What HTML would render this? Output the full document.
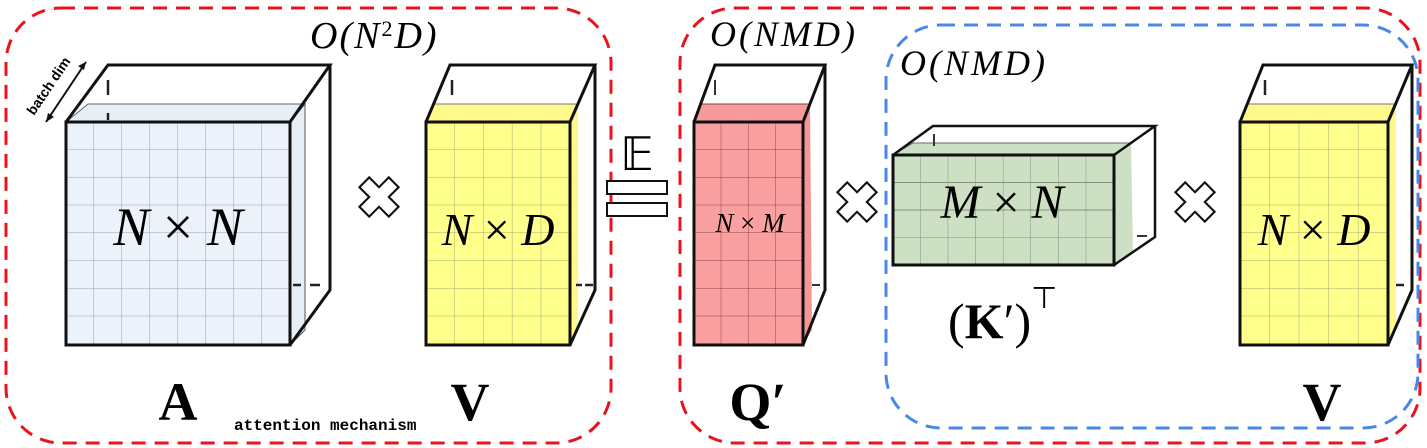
<!DOCTYPE html>
<html><head><meta charset="utf-8"><style>
html,body{margin:0;padding:0;background:#fff;width:1427px;height:448px;overflow:hidden}
.it{font-style:italic}
</style></head><body>
<svg width="1427" height="448" viewBox="0 0 1427 448" font-family="Liberation Serif, serif">
<defs>
<pattern id="g1" width="28" height="27.75" patternUnits="userSpaceOnUse" x="66" y="122"><path d="M28 0V27.75H0" fill="none" stroke="#9aa3ad" stroke-width="1"/></pattern>
<pattern id="g2" width="28.8" height="27.75" patternUnits="userSpaceOnUse" x="426" y="122"><path d="M28.8 0V27.75H0" fill="none" stroke="#a8a870" stroke-width="1"/></pattern>
<pattern id="g3" width="27.25" height="27.75" patternUnits="userSpaceOnUse" x="694" y="122"><path d="M27.25 0V27.75H0" fill="none" stroke="#8a4a4a" stroke-width="1"/></pattern>
<pattern id="g4" width="27.6" height="27.5" patternUnits="userSpaceOnUse" x="893" y="155"><path d="M27.6 0V27.5H0" fill="none" stroke="#7f947a" stroke-width="1"/></pattern>
<pattern id="g5" width="29.6" height="27.75" patternUnits="userSpaceOnUse" x="1240" y="122"><path d="M29.6 0V27.75H0" fill="none" stroke="#a8a870" stroke-width="1"/></pattern>
</defs>

<rect x="6" y="8" width="605" height="435" rx="55" fill="none" stroke="#e8141c" stroke-width="3" stroke-dasharray="14,9"/>
<rect x="680" y="8" width="740" height="435" rx="55" fill="none" stroke="#e8141c" stroke-width="3" stroke-dasharray="14,9"/>
<rect x="886" y="25" width="532" height="403" rx="55" fill="none" stroke="#4a88e8" stroke-width="3" stroke-dasharray="14,9"/>

<g>
<polygon points="66,122 88,104 305,104 290,122" fill="#e6eef8" stroke="#666" stroke-width="1"/>
<polygon points="290,122 305,104 305,330 290,345" fill="#e6eef8" stroke="#555" stroke-width="1"/>
<rect x="66" y="122" width="224" height="223" fill="#ecf2fa"/>
<rect x="66" y="122" width="224" height="223" fill="url(#g1)"/>
<rect x="66" y="122" width="224" height="223" fill="none" stroke="#111" stroke-width="3"/>
<path d="M66,122 L108,65 L330,65 L290,122 M330,65 L330,290 L290,345" fill="none" stroke="#111" stroke-width="3"/>
<path d="M108,80V95 M108,113V120 M293,285h8 M310,285h10" stroke="#222" stroke-width="2.5"/>
<text x="178" y="245" class="it" font-size="54" text-anchor="middle">N <tspan font-style="normal">×</tspan> N</text>
</g>
<g>
<path d="M46,122 L86,62" stroke="#111" stroke-width="2"/>
<polygon points="86,62 78,66 84,70" fill="#111"/><polygon points="46,122 48,113 54,117" fill="#111"/>
<text x="0" y="0" font-family="Liberation Sans, sans-serif" font-weight="bold" font-size="14" transform="translate(34,116) rotate(-56)">batch dim</text>
</g>
<text x="310" y="48" class="it" font-size="38" letter-spacing="2">O(N<tspan baseline-shift="super" font-size="22" font-style="normal">2</tspan>D)</text>

<g><path d="M0,-7L7,-14L14,-7L7,0L14,7L7,14L0,7L-7,14L-14,7L-7,0L-14,-7L-7,-14Z" transform="translate(379,197) scale(1.4)" fill="#fff" stroke="#111" stroke-width="1.5"/></g>

<g>
<polygon points="426,122 434,104 578,104 570,122" fill="#fff98c" stroke="#777" stroke-width="1"/>
<polygon points="570,122 578,104 578,330 570,345" fill="#fff98c"/>
<rect x="426" y="122" width="144" height="223" fill="#ffff8c"/>
<rect x="426" y="122" width="144" height="223" fill="url(#g2)"/>
<rect x="426" y="122" width="144" height="223" fill="none" stroke="#111" stroke-width="3"/>
<path d="M426,122 L450,65 L595,65 L570,122 M595,65 L595,290 L570,345" fill="none" stroke="#111" stroke-width="3"/>
<path d="M452,80V95 M576,285h6 M585,285h8" stroke="#222" stroke-width="2.5"/>
<text x="498" y="245" class="it" font-size="46" text-anchor="middle">N <tspan font-style="normal">×</tspan> D</text>
</g>

<g>
<text x="637" y="170" font-family="DejaVu Sans, sans-serif" font-size="46" text-anchor="middle">𝔼</text>
<rect x="607" y="181" width="60" height="13" fill="#fff" stroke="#111" stroke-width="2"/>
<rect x="607" y="203" width="60" height="13" fill="#fff" stroke="#111" stroke-width="2"/>
</g>

<g>
<polygon points="694,122 700,104 810,104 803,122" fill="#f79a9a" stroke="#844" stroke-width="1"/>
<polygon points="803,122 810,104 812,330 803,345" fill="#f59696"/>
<rect x="694" y="122" width="109" height="223" fill="#fba0a0"/>
<rect x="694" y="122" width="109" height="223" fill="url(#g3)"/>
<rect x="694" y="122" width="109" height="223" fill="none" stroke="#111" stroke-width="3"/>
<path d="M694,122 L715,65 L825,65 L803,122 M825,65 L825,290 L803,345" fill="none" stroke="#111" stroke-width="3"/>
<path d="M715,80V95 M812,285h8" stroke="#333" stroke-width="2"/>
<text x="750" y="232" class="it" font-size="27" text-anchor="middle">N <tspan font-style="normal">×</tspan> M</text>
</g>
<text x="710" y="46" class="it" font-size="36" letter-spacing="3">O(NMD)</text>

<g><path d="M0,-7L7,-14L14,-7L7,0L14,7L7,14L0,7L-7,14L-14,7L-7,0L-14,-7L-7,-14Z" transform="translate(857,202) scale(1.4)" fill="#fff" stroke="#111" stroke-width="1.5"/></g>

<g>
<polygon points="893,155 913,143 1131,143 1114,155" fill="#cde0c4" stroke="#666" stroke-width="1"/>
<polygon points="1114,155 1131,143 1133,252 1114,265" fill="#cde0c4"/>
<rect x="893" y="155" width="221" height="110" fill="#cde0c4"/>
<rect x="893" y="155" width="221" height="110" fill="url(#g4)"/>
<rect x="893" y="155" width="221" height="110" fill="none" stroke="#111" stroke-width="3"/>
<path d="M893,155 L933,126 L1155,126 L1114,155 M1155,126 L1155,237 L1114,265" fill="none" stroke="#111" stroke-width="2.5"/>
<path d="M934,134V146 M1137,236h10" stroke="#333" stroke-width="2"/>
<text x="1002" y="218" class="it" font-size="48" text-anchor="middle">M <tspan font-style="normal">×</tspan> N</text>
</g>
<text x="900" y="75" class="it" font-size="36" letter-spacing="3">O(NMD)</text>
<text x="948" y="338" font-size="50">(<tspan font-weight="bold">K</tspan>′)<tspan font-family="DejaVu Sans, sans-serif" font-size="30" dy="-30">⊤</tspan></text>

<g><path d="M0,-7L7,-14L14,-7L7,0L14,7L7,14L0,7L-7,14L-14,7L-7,0L-14,-7L-7,-14Z" transform="translate(1195,202) scale(1.4)" fill="#fff" stroke="#111" stroke-width="1.5"/></g>

<g>
<polygon points="1240,122 1248,104 1396,104 1388,122" fill="#fff98c" stroke="#777" stroke-width="1"/>
<polygon points="1388,122 1396,104 1396,330 1388,345" fill="#fff98c"/>
<rect x="1240" y="122" width="148" height="223" fill="#ffff8c"/>
<rect x="1240" y="122" width="148" height="223" fill="url(#g5)"/>
<rect x="1240" y="122" width="148" height="223" fill="none" stroke="#111" stroke-width="3"/>
<path d="M1240,122 L1263,65 L1412,65 L1388,122 M1412,65 L1412,290 L1388,345" fill="none" stroke="#111" stroke-width="3"/>
<path d="M1265,80V95 M1396,285h8" stroke="#222" stroke-width="2.5"/>
<text x="1314" y="245" class="it" font-size="46" text-anchor="middle">N <tspan font-style="normal">×</tspan> D</text>
</g>

<text x="178" y="420" font-size="54" font-weight="bold" text-anchor="middle">A</text>
<text x="470" y="420" font-size="54" font-weight="bold" text-anchor="middle">V</text>
<text x="758" y="420" font-size="54" font-weight="bold" text-anchor="middle">Q′</text>
<text x="1322" y="420" font-size="54" font-weight="bold" text-anchor="middle">V</text>
<text x="234" y="430" font-family="Liberation Mono, monospace" font-weight="bold" font-size="16">attention mechanism</text>
</svg>
</body></html>
